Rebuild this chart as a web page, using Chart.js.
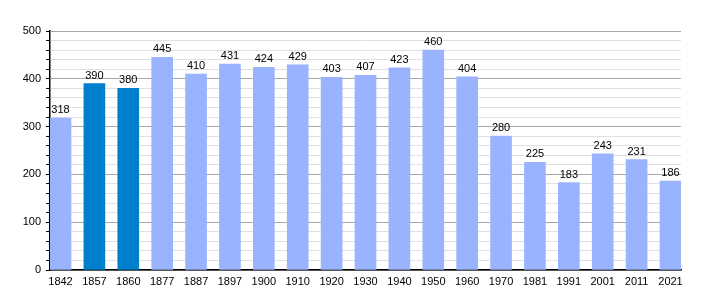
<!DOCTYPE html>
<html>
<head>
<meta charset="utf-8">
<script src="https://cdn.jsdelivr.net/npm/chart.js@4"></script>
<style>
  html, body { margin: 0; padding: 0; background: #fff; }
  #wrap { width: 710px; height: 300px; }
</style>
</head>
<body>
<div id="wrap"><canvas id="chartPop"></canvas></div>
<script>
var years = ['1842','1857','1860','1877','1887','1897','1900','1910','1920','1930','1940','1950','1960','1970','1981','1991','2001','2011','2021'];
var population = [318,390,380,445,410,431,424,429,403,407,423,460,404,280,225,183,243,231,186];
var highlighted = ['1857','1860'];

var colorLight = '#99b3ff';
var colorDark = '#0080cc';

// ========================================

var barColors = years.map(function(y) {
    return highlighted.indexOf(y) >= 0 ? colorDark : colorLight;
});

var valueLabels = {
    id: 'valueLabels',
    afterDatasetsDraw: function(chart) {
        var ctx = chart.ctx;
        var meta = chart.getDatasetMeta(0);
        ctx.save();
        ctx.font = '11px "Liberation Sans", Arial, sans-serif';
        ctx.fillStyle = '#000';
        ctx.textAlign = 'center';
        ctx.textBaseline = 'alphabetic';
        meta.data.forEach(function(bar, i) {
            ctx.fillText(String(population[i]), bar.x, bar.y - 5);
        });
        ctx.restore();
    }
};

var dataChartPop = {
    datasets: [
        {
            label: 'Population',
            data: population.map(function(v, i) { return {x: i, y: v}; }),
            backgroundColor: barColors,
            barThickness: 21
        }
    ]
};

var ctxChartPop = document.getElementById('chartPop');
var chartPop = new Chart(ctxChartPop, {
    type: 'bar',
    data: dataChartPop,
    plugins: [valueLabels],
    options: {
        responsive: true,
        maintainAspectRatio: false,
        animation: false,
        layout: { padding: { left: 0, right: 29, top: 31, bottom: 0 } },
        plugins: {
            legend: { display: false },
            tooltip: { enabled: false }
        },
        scales: {
            x: {
                type: 'linear',
                offset: false,
                min: -0.31,
                max: years.length - 1 + 0.31,
                afterBuildTicks: function(scale) {
                    scale.ticks = years.map(function(y, i) { return {value: i}; });
                },
                afterFit: function(scale) { scale.height = 30; },
                grid: { display: false, drawTicks: false },
                border: { display: true, color: '#000', width: 1.5 },
                ticks: {
                    autoSkip: false,
                    maxRotation: 0,
                    padding: 5,
                    color: '#000',
                    font: { family: '"Liberation Sans", Arial, sans-serif', size: 11 },
                    callback: function(v) { return years[v]; }
                }
            },
            y: {
                min: 0,
                max: 500,
                afterFit: function(scale) { scale.width = 50; },
                border: { display: true, color: '#000', width: 1.5 },
                grid: {
                    color: function(c) { return c.tick.value % 100 === 0 ? '#a8a8a8' : '#e0e0e0'; },
                    tickColor: '#000',
                    tickLength: 4,
                    lineWidth: 1
                },
                ticks: {
                    stepSize: 20,
                    autoSkip: false,
                    padding: 5,
                    color: '#000',
                    font: { family: '"Liberation Sans", Arial, sans-serif', size: 11 },
                    callback: function(v) { return v % 100 === 0 ? v : ''; }
                }
            }
        }
    }
});
</script>
</body>
</html>
